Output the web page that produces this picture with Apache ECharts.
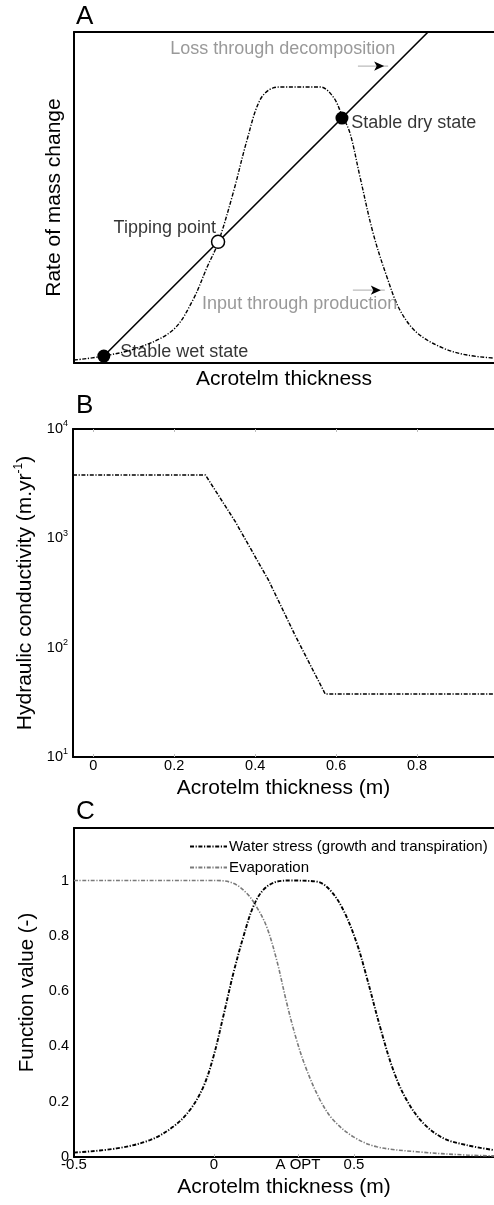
<!DOCTYPE html>
<html><head><meta charset="utf-8">
<script src="https://cdn.jsdelivr.net/npm/echarts@6/dist/echarts.min.js"></script>
<style>html,body{margin:0;padding:0;background:#fff}#c{width:494px;height:1205px}</style>
</head><body><div id="c"></div>
<script>
// ---------- Panel A data (arbitrary normalised units) ----------
const prodX = [0, 0.071, 0.157, 0.236, 0.283, 0.317, 0.343, 0.379, 0.412, 0.443, 0.474, 0.498, 0.586, 0.617, 0.638, 0.657, 0.681, 0.712, 0.745, 0.776, 0.817, 0.879, 0.936, 1.0];
const prodY = [0.009, 0.021, 0.048, 0.10, 0.19, 0.29, 0.363, 0.514, 0.674, 0.795, 0.831, 0.834, 0.834, 0.804, 0.749, 0.695, 0.562, 0.393, 0.26, 0.16, 0.091, 0.045, 0.024, 0.015];
const lossX = [0.071, 0.843];
const lossY = [0.021, 1.0];
const stateNames = ['Stable wet state', 'Tipping point', 'Stable dry state'];
const stateX = [0.071, 0.343, 0.638];
const stateY = [0.021, 0.366, 0.74];
const annText = ['Loss through decomposition', 'Input through production', 'Stable dry state', 'Tipping point', 'Stable wet state'];
const annX = [0.229, 0.305, 0.660, 0.338, 0.110];
const annY = [0.949, 0.178, 0.725, 0.408, 0.033];
const arrowX0 = [0.676, 0.664];
const arrowX1 = [0.748, 0.740];
const arrowY = [0.897, 0.22];

// ---------- Panel B data ----------
const kX = [-0.05, 0.277, 0.351, 0.433, 0.499, 0.573, 0.99];
const kY = [3800, 3800, 1420, 414, 129, 37.7, 37.7];
const kXTicks = [0, 0.2, 0.4, 0.6, 0.8];

// ---------- Panel C data ----------
const wsX = [-0.5, -0.348, -0.229, -0.145, -0.086, -0.038, -0.002, 0.033, 0.069, 0.105, 0.14, 0.176, 0.224, 0.271, 0.367, 0.414, 0.462, 0.51, 0.545, 0.593, 0.64, 0.688, 0.748, 0.819, 0.902, 1.0];
const wsY = [0.016, 0.031, 0.061, 0.11, 0.17, 0.254, 0.363, 0.508, 0.664, 0.797, 0.905, 0.966, 0.996, 1.0, 0.996, 0.966, 0.893, 0.773, 0.652, 0.471, 0.315, 0.206, 0.122, 0.068, 0.043, 0.025];
const evX = [-0.5, 0.01, 0.069, 0.117, 0.152, 0.188, 0.224, 0.26, 0.295, 0.331, 0.379, 0.426, 0.498, 0.581, 0.724, 0.902, 1.0];
const evY = [1, 1, 0.99, 0.954, 0.905, 0.833, 0.712, 0.556, 0.423, 0.315, 0.206, 0.134, 0.073, 0.037, 0.019, 0.007, 0.004];
const cXLabels = [-0.5, 0, 0.3, 0.5];
const cXLabelText = ['-0.5', '0', 'A OPT', '0.5'];
const cXTicks = [0, 0.3, 0.5];
const cYTicks = [0, 0.2, 0.4, 0.6, 0.8, 1];
const seriesNames = ['Water stress (growth and transpiration)', 'Evaporation'];

const zip = (a, b) => a.map((v, i) => [v, b[i]]);
const FONT = '"Liberation Sans", Arial, Helvetica, sans-serif';
const DASHDOT = [4, 1.6, 1.2, 1.6];
const axisLineStyle = { onZero: false, lineStyle: { color: '#000', width: 2 } };
const grayTick = { show: true, inside: true, length: 3, lineStyle: { color: '#bbb', width: 1 } };
const letterStyle = { fontFamily: FONT, fontSize: 26, fontWeight: 'normal', color: '#000' };

const chart = echarts.init(document.getElementById('c'), null, { renderer: 'canvas' });

const option = {
  backgroundColor: '#fff',
  animation: false,
  textStyle: { fontFamily: FONT, color: '#000' },
  title: [
    { text: 'A', left: 76, top: 4, padding: 0, textStyle: letterStyle },
    { text: 'B', left: 76, top: 393, padding: 0, textStyle: letterStyle },
    { text: 'C', left: 76, top: 799, padding: 0, textStyle: letterStyle }
  ],
  grid: [
    { left: 74, top: 32, width: 420, height: 331 },
    { left: 73, top: 429, width: 421, height: 328 },
    { left: 74, top: 828, width: 423, height: 329 }
  ],
  legend: {
    data: seriesNames,
    orient: 'vertical',
    left: 184, top: 834,
    itemWidth: 37, itemHeight: 14, itemGap: 6,
    itemStyle: { opacity: 0 },
    textStyle: { fontFamily: FONT, fontSize: 15, color: '#000', padding: [0, 0, 0, -3] }
  },
  xAxis: [
    // A
    { gridIndex: 0, type: 'value', min: 0, max: 1, position: 'bottom',
      axisLine: axisLineStyle, axisTick: { show: false }, axisLabel: { show: false }, splitLine: { show: false },
      name: 'Acrotelm thickness', nameLocation: 'middle', nameGap: 6,
      nameTextStyle: { fontFamily: FONT, fontSize: 21, color: '#000' } },
    { gridIndex: 0, type: 'value', min: 0, max: 1, position: 'top',
      axisLine: axisLineStyle, axisTick: { show: false }, axisLabel: { show: false }, splitLine: { show: false } },
    // B
    { gridIndex: 1, type: 'value', min: -0.05, max: 0.99, position: 'bottom',
      axisLine: axisLineStyle,
      axisTick: Object.assign({ customValues: kXTicks }, grayTick),
      axisLabel: { customValues: kXTicks, fontFamily: FONT, fontSize: 14.5, color: '#000', margin: 1,
        formatter: v => String(Math.round(v * 10) / 10) },
      splitLine: { show: false },
      name: 'Acrotelm thickness (m)', nameLocation: 'middle', nameGap: 21,
      nameTextStyle: { fontFamily: FONT, fontSize: 21, color: '#000' } },
    { gridIndex: 1, type: 'value', min: -0.05, max: 0.99, position: 'top',
      axisLine: axisLineStyle,
      axisTick: Object.assign({ customValues: kXTicks }, grayTick),
      axisLabel: { show: false }, splitLine: { show: false } },
    // C
    { gridIndex: 2, type: 'value', min: -0.5, max: 1.0, position: 'bottom',
      axisLine: axisLineStyle,
      axisTick: Object.assign({ customValues: cXTicks }, grayTick),
      axisLabel: { customValues: cXLabels, fontFamily: FONT, fontSize: 15, color: '#000', margin: 0,
        formatter: v => { const i = cXLabels.findIndex(x => Math.abs(x - v) < 1e-9); return i >= 0 ? cXLabelText[i] : ''; } },
      splitLine: { show: false },
      name: 'Acrotelm thickness (m)', nameLocation: 'middle', nameGap: 20,
      nameTextStyle: { fontFamily: FONT, fontSize: 21, color: '#000' } },
    { gridIndex: 2, type: 'value', min: -0.5, max: 1.0, position: 'top',
      axisLine: axisLineStyle, axisTick: { show: false }, axisLabel: { show: false }, splitLine: { show: false } }
  ],
  yAxis: [
    { gridIndex: 0, type: 'value', min: 0, max: 1,
      axisLine: axisLineStyle, axisTick: { show: false }, axisLabel: { show: false }, splitLine: { show: false },
      name: 'Rate of mass change', nameLocation: 'middle', nameGap: 9,
      nameTextStyle: { fontFamily: FONT, fontSize: 21, color: '#000', padding: [0, 0, 0, 0] } },
    { gridIndex: 1, type: 'log', logBase: 10, min: 10, max: 10000,
      axisLine: axisLineStyle, axisTick: { show: false }, splitLine: { show: false },
      axisLabel: { fontFamily: FONT, color: '#000', margin: 5,
        formatter: v => '{b|10}{s|' + Math.round(Math.log10(v)) + '}',
        rich: { b: { fontSize: 14.5, fontFamily: FONT, color: '#000' },
                s: { fontSize: 9, fontFamily: FONT, color: '#000', verticalAlign: 'top', padding: [0, 0, 10, 0] } } },
      name: 'Hydraulic conductivity (m.yr{s|-1})', nameLocation: 'middle', nameGap: 33,
      nameTextStyle: { fontFamily: FONT, fontSize: 21, color: '#000',
        rich: { s: { fontSize: 12, fontFamily: FONT, color: '#000', verticalAlign: 'top', padding: [0, 0, 13, 0] } } } },
    { gridIndex: 2, type: 'value', min: 0, max: 1.19,
      axisLine: axisLineStyle, axisTick: { show: false }, splitLine: { show: false },
      axisLabel: { customValues: cYTicks, fontFamily: FONT, fontSize: 14.5, color: '#000', margin: 5,
        formatter: v => String(Math.round(v * 10) / 10) },
      name: 'Function value (-)', nameLocation: 'middle', nameGap: 31,
      nameTextStyle: { fontFamily: FONT, fontSize: 20.5, color: '#000' } }
  ],
  series: [
    // ----- A -----
    { name: 'Input through production', type: 'line', xAxisIndex: 0, yAxisIndex: 0,
      data: zip(prodX, prodY), smooth: 0.35, showSymbol: false, symbol: 'none',
      lineStyle: { color: '#000', width: 1.4, type: DASHDOT }, z: 2 },
    { name: 'Loss through decomposition', type: 'line', xAxisIndex: 0, yAxisIndex: 0,
      data: zip(lossX, lossY), showSymbol: false, symbol: 'none',
      lineStyle: { color: '#000', width: 1.6 }, z: 3 },
    { name: 'arrows1', type: 'line', xAxisIndex: 0, yAxisIndex: 0,
      data: [ { value: [arrowX0[0], arrowY[0]], symbol: 'none' },
              { value: [arrowX1[0], arrowY[0]], symbol: 'arrow', symbolSize: [7, 10], symbolRotate: -90, symbolOffset: [-4, 0], itemStyle: { color: '#000' } } ],
      showSymbol: true, lineStyle: { color: '#bbb', width: 1.2 }, z: 4 },
    { name: 'arrows2', type: 'line', xAxisIndex: 0, yAxisIndex: 0,
      data: [ { value: [arrowX0[1], arrowY[1]], symbol: 'none' },
              { value: [arrowX1[1], arrowY[1]], symbol: 'arrow', symbolSize: [7, 10], symbolRotate: -90, symbolOffset: [-4, 0], itemStyle: { color: '#000' } } ],
      showSymbol: true, lineStyle: { color: '#bbb', width: 1.2 }, z: 4 },
    { name: 'states', type: 'scatter', xAxisIndex: 0, yAxisIndex: 0,
      data: stateNames.map((n, i) => ({ name: n, value: [stateX[i], stateY[i]],
        itemStyle: i === 1 ? { color: '#fff', borderColor: '#000', borderWidth: 1.5, opacity: 1 } : { color: '#000', opacity: 1 } })),
      symbol: 'circle', symbolSize: 13, z: 6 },
    { name: 'annotations', type: 'scatter', xAxisIndex: 0, yAxisIndex: 0,
      data: annText.map((t, i) => ({ name: t, value: [annX[i], annY[i]],
        label: { position: i === 3 ? 'left' : 'right', color: i < 2 ? '#808080' : '#000' } })),
      symbolSize: 0, silent: true, z: 7,
      label: { show: true, formatter: '{b}', distance: 0, fontFamily: FONT, fontSize: 18 } },
    // ----- B -----
    { name: 'K', type: 'line', xAxisIndex: 2, yAxisIndex: 1,
      data: zip(kX, kY), showSymbol: false, symbol: 'none',
      lineStyle: { color: '#000', width: 1.5, type: DASHDOT } },
    // ----- C -----
    { name: seriesNames[0], type: 'line', xAxisIndex: 4, yAxisIndex: 2,
      data: zip(wsX, wsY), smooth: 0.35, showSymbol: false, symbol: 'none',
      itemStyle: { color: '#000' },
      lineStyle: { color: '#000', width: 1.9, type: DASHDOT } },
    { name: seriesNames[1], type: 'line', xAxisIndex: 4, yAxisIndex: 2,
      data: zip(evX, evY), smooth: 0.35, showSymbol: false, symbol: 'none',
      itemStyle: { color: '#7a7a7a' },
      lineStyle: { color: '#7a7a7a', width: 1.6, type: DASHDOT } }
  ]
};
chart.setOption(option);
</script>
</body></html>
